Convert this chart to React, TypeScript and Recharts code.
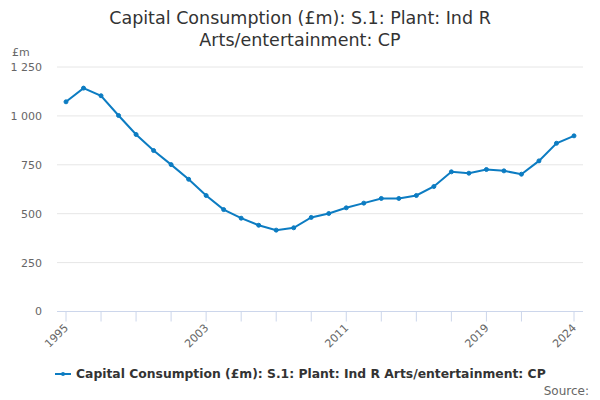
import { LineChart, Line, XAxis, YAxis, CartesianGrid } from "recharts";

const years = [
  1995, 1996, 1997, 1998, 1999, 2000, 2001, 2002, 2003, 2004, 2005, 2006, 2007, 2008, 2009,
  2010, 2011, 2012, 2013, 2014, 2015, 2016, 2017, 2018, 2019, 2020, 2021, 2022, 2023, 2024,
];
const values = [
  1072, 1142, 1103, 1002, 905, 823, 751, 676, 593, 521, 477, 441, 416, 428, 481,
  501, 530, 554, 578, 578, 593, 639, 714, 707, 726, 719, 702, 770, 860, 898,
];
const tickYears = [1995, 1997, 1999, 2001, 2003, 2005, 2007, 2009, 2011, 2013, 2015, 2017, 2019, 2021, 2024];
const labelYears = [1995, 2003, 2011, 2019, 2024];
const yTicks = [0, 250, 500, 750, 1000, 1250];

const data = years.map((y, i) => ({ year: y, value: values[i] }));

const SERIES = "Capital Consumption (£m): S.1: Plant: Ind R Arts/entertainment: CP";
const BLUE = "#0c7cc2";
const FONT = "'DejaVu Sans', sans-serif";

function fmtY(v: number) {
  return v >= 1000 ? `${Math.floor(v / 1000)} ${String(v % 1000).padStart(3, "0")}` : String(v);
}

function XTick(props: any) {
  const { x, y, payload } = props;
  return (
    <g>
      <line x1={x} y1={y - 8} x2={x} y2={y + 2} stroke="#ccd6eb" />
      {labelYears.includes(payload.value) && (
        <text
          x={x + 3}
          y={y + 9}
          textAnchor="end"
          fill="#666"
          fontSize={11}
          fontFamily={FONT}
          transform={`rotate(-45 ${x + 3} ${y + 9})`}
        >
          {payload.value}
        </text>
      )}
    </g>
  );
}

export default function App() {
  return (
    <div style={{ position: "absolute", left: 0, top: 0, width: 600, height: 400, fontFamily: FONT, background: "#fff" }}>
      <div
        style={{
          position: "absolute",
          top: 7,
          left: 0,
          width: 600,
          textAlign: "center",
          fontSize: 17.5,
          lineHeight: "22px",
          color: "#333",
        }}
      >
        Capital Consumption (£m): S.1: Plant: Ind R
        <br />
        Arts/entertainment: CP
      </div>
      <div style={{ position: "absolute", left: 12, top: 46, fontSize: 11, color: "#666" }}>£m</div>
      <LineChart width={600} height={400} data={data} margin={{ top: 67, right: 17, bottom: 0, left: 0 }}>
        <CartesianGrid vertical={false} stroke="#e6e6e6" />
        <XAxis
          dataKey="year"
          type="number"
          domain={[1995, 2024]}
          ticks={tickYears}
          interval={0}
          padding={{ left: 9, right: 9 }}
          height={88.5}
          stroke="#ccd6eb"
          tickLine={false}
          tick={<XTick />}
        />
        <YAxis
          domain={[0, 1250]}
          ticks={yTicks}
          width={57}
          axisLine={false}
          tickLine={false}
          tickSize={0}
          tickMargin={15}
          tickFormatter={fmtY}
          tick={{ fill: "#666", fontSize: 11, fontFamily: FONT }}
        />
        <Line
          dataKey="value"
          stroke={BLUE}
          strokeWidth={2}
          dot={{ r: 2, fill: BLUE, stroke: BLUE, strokeWidth: 1 }}
          isAnimationActive={false}
        />
      </LineChart>
      <div style={{ position: "absolute", left: 55, top: 366, display: "flex", alignItems: "center" }}>
        <svg width={16} height={16}>
          <line x1={0} y1={8} x2={16} y2={8} stroke={BLUE} strokeWidth={2} />
          <circle cx={8} cy={8} r={2} fill={BLUE} />
        </svg>
        <span style={{ marginLeft: 5, fontSize: 12.35, fontWeight: "bold", color: "#333" }}>{SERIES}</span>
      </div>
      <div style={{ position: "absolute", right: 11, top: 384, fontSize: 12, color: "#666" }}>Source:</div>
    </div>
  );
}
